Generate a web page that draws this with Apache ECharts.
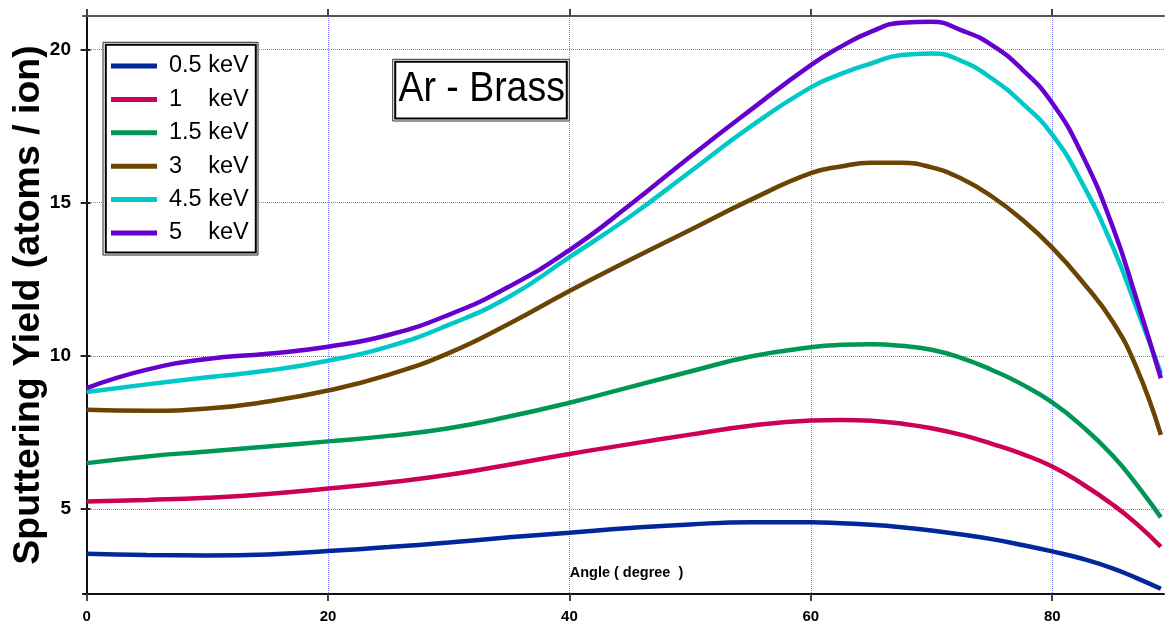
<!DOCTYPE html>
<html><head><meta charset="utf-8">
<script src="https://cdn.jsdelivr.net/npm/echarts@6/dist/echarts.min.js"></script>
<style>html,body{margin:0;padding:0;background:#fff}#c{width:1167px;height:628px}</style>
</head><body><div id="c"></div>
<script>
const angles = [0,5,10,15,20,25,30,35,40,45,50,55,60,62.5,65,67.5,70,72.5,75,77.5,80,82.5,85,87,89];
const y05 = [3.54,3.50,3.49,3.52,3.63,3.76,3.91,4.08,4.23,4.38,4.50,4.57,4.57,4.54,4.49,4.41,4.30,4.17,4.02,3.83,3.62,3.38,3.07,2.75,2.40];
const y1  = [5.25,5.30,5.37,5.49,5.67,5.87,6.12,6.45,6.80,7.12,7.43,7.72,7.89,7.91,7.88,7.79,7.64,7.42,7.13,6.80,6.39,5.82,5.15,4.52,3.77];
const y15 = [6.50,6.72,6.88,7.04,7.21,7.39,7.64,8.02,8.47,8.98,9.49,9.98,10.28,10.36,10.38,10.33,10.20,9.93,9.54,9.07,8.48,7.70,6.75,5.80,4.73];
const y3  = [8.24,8.21,8.28,8.51,8.87,9.38,10.09,11.05,12.12,13.13,14.11,15.09,15.96,16.18,16.30,16.30,16.15,15.78,15.20,14.45,13.53,12.42,11.12,9.60,7.42];
const y45 = [8.82,9.07,9.30,9.52,9.84,10.30,11.01,11.93,13.22,14.54,16.01,17.48,18.76,19.20,19.54,19.82,19.87,19.62,19.05,18.25,17.22,15.62,13.57,11.55,9.43];
const y5  = [8.95,9.55,9.90,10.07,10.30,10.68,11.34,12.26,13.45,14.92,16.50,18.02,19.49,20.09,20.58,20.87,20.90,20.62,20.14,19.35,18.25,16.55,14.22,11.83,9.27];
const seriesNames = ['0.5 keV','1    keV','1.5 keV','3    keV','4.5 keV','5    keV'];
const seriesColors = ['#00289a','#cc0055','#009655','#6a4400','#00c8c8','#6600cc'];
const xTicks = [0,20,40,60,80];
const yTicks = [5,10,15,20];
const xName = 'Angle ( degree  )';
const yName = 'Sputtering Yield (atoms / ion)';
const titleText = 'Ar - Brass';

const FONT = 'Liberation Sans, Arial, sans-serif';
const allY = [y05,y1,y15,y3,y45,y5];
const chart = echarts.init(document.getElementById('c'));
const gridLine = {show:true, lineStyle:{color:'#7a7aff', type:'dotted', width:1}};
const option = {
  backgroundColor:'#fff',
  animation:false,
  grid:{left:83, right:3, top:16, bottom:34, containLabel:false, outerBoundsMode:'none'},
  xAxis:[
    {type:'value', min:-0.3, max:89.26, position:'bottom',
     axisLine:{show:true, lineStyle:{color:'#111', width:2}},
     axisTick:{show:true, customValues:xTicks, length:7, lineStyle:{color:'#444', width:2}},
     axisLabel:{customValues:xTicks, fontWeight:'bold', fontSize:15, color:'#000', margin:15, fontFamily:FONT},
     splitLine:gridLine,
     name:xName, nameLocation:'middle', nameGap:-21, nameMoveOverlap:false,
     nameTextStyle:{fontSize:14.5, fontWeight:'bold', color:'#000', fontFamily:FONT, verticalAlign:'middle', padding:[0,0,0,6]}},
    {type:'value', min:-0.3, max:89.26, position:'top',
     axisLine:{show:true, lineStyle:{color:'#555', width:2}},
     axisTick:{show:true, customValues:xTicks, length:7, lineStyle:{color:'#444', width:2}},
     axisLabel:{show:false}, splitLine:{show:false}}
  ],
  yAxis:[
    {type:'value', min:2.23, max:21.09, position:'left',
     axisLine:{show:true, lineStyle:{color:'#555', width:2}},
     axisTick:{show:true, customValues:yTicks, length:6, lineStyle:{color:'#222', width:2}},
     axisLabel:{customValues:yTicks, fontWeight:'bold', fontSize:19, color:'#000', margin:12, fontFamily:FONT},
     splitLine:gridLine,
     name:yName, nameLocation:'middle', nameGap:54, nameRotate:90, nameMoveOverlap:false,
     nameTextStyle:{fontSize:37.5, fontWeight:'bold', color:'#000', fontFamily:FONT, verticalAlign:'middle'}},
    {type:'value', min:2.23, max:21.09, position:'right',
     axisLine:{show:true, lineStyle:{color:'#111', width:2}},
     axisTick:{show:true, customValues:yTicks, length:4, lineStyle:{color:'#222', width:2}},
     axisLabel:{show:false}, splitLine:{show:false}}
  ],
  legend:{
    orient:'vertical', left:111, top:53, padding:0, itemGap:7.4,
    itemWidth:46, itemHeight:5, icon:'rect',
    textStyle:{fontSize:23.5, color:'#000', fontFamily:FONT, lineHeight:26, padding:[0,0,0,7]},
    data:seriesNames, z:10
  },
  graphic:[
    {type:'rect', z:3, shape:{x:103, y:42.3, width:155, height:212.7}, style:{fill:'#fff', stroke:'#222', lineWidth:1}},
    {type:'rect', z:3, shape:{x:105.8, y:44.8, width:150, height:207.8}, style:{fill:'#fff', stroke:'#000', lineWidth:2}},
    {type:'rect', z:3, shape:{x:392.7, y:59.3, width:176.6, height:61.7}, style:{fill:'#fff', stroke:'#333', lineWidth:1}},
    {type:'rect', z:3, shape:{x:395.2, y:61.8, width:171.6, height:56.7}, style:{fill:'#fff', stroke:'#000', lineWidth:2}},
    {type:'text', z:4, x:481.7, y:89, scaleX:0.87,
     style:{text:titleText, x:0, y:0, fontSize:43, fontFamily:FONT, fill:'#000', textAlign:'center', textVerticalAlign:'middle'}}
  ],
  series: seriesNames.map((n,i)=>({
    name:n, type:'line', smooth:0.5, showSymbol:false, symbol:'none',
    color:seriesColors[i], lineStyle:{width:4.5, color:seriesColors[i]},
    data: angles.map((a,j)=>[a, allY[i][j]]), z:5
  }))
};
chart.setOption(option);
</script></body></html>
